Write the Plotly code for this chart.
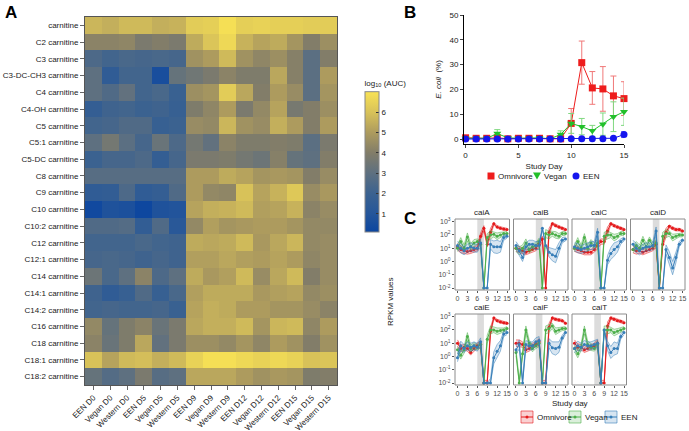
import plotly.graph_objects as go

W, H = 689, 431
def px(x): return x / W
def py(y): return 1 - y / H

# ---------------- Panel A data ----------------
metabolites = ["carnitine", "C2 carnitine", "C3 carnitine", "C3-DC-CH3 carnitine", "C4 carnitine",
               "C4-OH carnitine", "C5 carnitine", "C5:1 carnitine", "C5-DC carnitine", "C8 carnitine",
               "C9 carnitine", "C10 carnitine", "C10:2 carnitine", "C12 carnitine", "C12:1 carnitine",
               "C14 carnitine", "C14:1 carnitine", "C14:2 carnitine", "C16 carnitine", "C18 carnitine",
               "C18:1 carnitine", "C18:2 carnitine"]
samples = ["EEN D0", "Vegan D0", "Western D0", "EEN D5", "Vegan D5", "Western D5",
           "EEN D9", "Vegan D9", "Western D9", "EEN D12", "Vegan D12", "Western D12",
           "EEN D15", "Vegan D15", "Western D15"]
log_auc = [
    [5.7, 5.5, 5.8, 5.8, 5.5, 5.6, 6.3, 6.4, 6.9, 6.4, 6.5, 6.4, 6.4, 6.3, 6.3],
    [4.2, 4.2, 4.3, 3.8, 4.0, 3.8, 5.4, 6.1, 6.7, 5.6, 5.2, 5.4, 4.8, 4.0, 4.6],
    [2.5, 2.2, 2.4, 2.3, 2.4, 2.3, 4.7, 5.0, 5.8, 4.7, 4.3, 4.6, 4.1, 2.9, 4.0],
    [3.0, 1.5, 2.2, 2.2, 0.6, 3.2, 3.5, 3.8, 4.2, 3.9, 3.9, 5.3, 4.1, 2.9, 5.0],
    [3.0, 2.6, 3.1, 2.2, 2.4, 1.9, 4.6, 4.8, 6.3, 5.3, 4.0, 5.0, 4.5, 2.9, 4.8],
    [1.7, 2.1, 2.2, 2.0, 2.1, 1.8, 3.9, 4.3, 5.0, 3.8, 4.4, 5.2, 3.7, 4.0, 4.6],
    [2.2, 2.3, 2.6, 2.6, 1.8, 2.0, 4.5, 4.4, 5.7, 4.7, 4.5, 5.5, 5.0, 4.0, 5.0],
    [3.0, 3.6, 2.9, 2.3, 3.3, 2.5, 3.6, 3.1, 4.2, 3.9, 3.9, 4.0, 3.9, 2.9, 3.8],
    [2.0, 2.3, 2.3, 2.5, 1.7, 2.3, 3.8, 3.8, 3.9, 3.6, 3.4, 4.1, 3.2, 3.0, 4.0],
    [2.8, 2.8, 2.8, 2.8, 2.8, 2.8, 5.0, 5.0, 5.4, 5.2, 4.8, 4.9, 4.8, 4.0, 4.5],
    [1.5, 1.6, 2.5, 1.5, 1.7, 2.6, 5.0, 4.4, 4.3, 6.0, 5.2, 5.6, 6.2, 4.5, 4.9],
    [0.3, 0.8, 0.7, 0.2, 0.8, 0.9, 5.2, 5.5, 5.6, 5.8, 5.1, 5.2, 5.6, 4.2, 4.5],
    [2.6, 2.6, 2.7, 1.6, 2.6, 1.2, 4.4, 5.1, 4.8, 4.9, 5.0, 5.0, 4.8, 4.4, 4.4],
    [2.2, 2.2, 2.2, 2.4, 2.2, 2.1, 5.4, 5.3, 5.4, 5.8, 4.9, 5.3, 5.7, 4.4, 4.5],
    [2.3, 2.4, 2.3, 2.1, 2.3, 2.1, 5.1, 5.1, 5.3, 5.1, 5.0, 5.2, 5.0, 4.3, 4.5],
    [3.4, 2.4, 3.0, 4.2, 2.5, 3.0, 5.4, 4.9, 5.1, 5.8, 4.5, 5.3, 5.8, 4.0, 4.5],
    [2.1, 1.5, 1.8, 2.6, 1.8, 2.4, 5.1, 5.4, 5.4, 5.4, 4.9, 5.1, 5.2, 4.4, 4.6],
    [2.2, 2.3, 2.2, 2.2, 2.3, 1.9, 5.2, 5.5, 5.4, 5.0, 5.0, 4.8, 4.8, 4.5, 4.2],
    [4.4, 3.2, 3.9, 4.2, 3.3, 3.8, 5.3, 5.5, 5.5, 5.8, 4.8, 5.7, 5.8, 4.3, 5.0],
    [4.2, 3.3, 3.9, 5.3, 3.1, 3.8, 4.6, 4.6, 4.4, 4.8, 4.3, 5.0, 4.7, 4.0, 4.7],
    [6.0, 5.2, 5.8, 5.9, 5.5, 5.8, 6.5, 6.9, 6.9, 6.7, 6.5, 6.7, 6.5, 6.0, 6.1],
    [3.2, 2.7, 3.0, 3.8, 2.8, 3.0, 5.3, 5.3, 5.3, 5.0, 4.7, 4.9, 4.8, 3.9, 4.0],
]
cbar_ticks = [1, 2, 3, 4, 5, 6]

# ---------------- Panel B data ----------------
study_day = list(range(16))
omnivore_pct = [0.5, 0.3, 0.3, 0.5, 0.1, 0.3, 0.3, 0.3, 0.1, 0.1, 6.3, 30.8, 20.6, 20.2, 17.4, 16.3]
omnivore_err = [0.3, 0.2, 0.2, 0.4, 0.1, 0.2, 0.2, 0.3, 0.1, 0.1, 6.0, 8.7, 6.6, 9.0, 8.0, 6.8]
vegan_pct = [0.3, 0.3, 0.3, 2.2, 0.5, 0.3, 0.3, 0.5, 0.1, 1.8, 6.3, 5.0, 3.3, 6.0, 9.0, 11.0]
vegan_err = [0.2, 0.2, 0.2, 1.6, 0.4, 0.2, 0.2, 0.3, 0.1, 1.5, 4.0, 3.3, 2.2, 4.5, 6.0, 5.5]
een_pct = [0.0, 0.0, 0.0, 0.0, 0.0, 0.0, 0.0, 0.0, 0.0, 0.0, 0.1, 0.1, 0.1, 0.1, 0.3, 1.8]
een_err = [0.0, 0.0, 0.0, 0.0, 0.0, 0.0, 0.0, 0.0, 0.0, 0.0, 0.1, 0.1, 0.1, 0.1, 0.2, 1.2]
groups_b = ["Omnivore", "Vegan", "EEN"]

# ---------------- Panel C data (log10 RPKM; -2 = floor) ----------------
genes = ["caiA", "caiB", "caiC", "caiD", "caiE", "caiF", "caiT"]
c_days = list(range(16))
omn_caiA = [1.1, 0.9, 0.8, 0.75, 0.8, 0.9, 1.0, 1.9, 2.5, 1.3, 2.2, 2.85, 2.6, 2.5, 2.45, 2.4]
veg_caiA = [1.0, 1.5, 1.0, 1.85, 1.1, 1.4, 1.5, 1.3, -2.0, 1.8, 2.0, 2.05, 1.9, 2.0, 2.1, 2.1]
een_caiA = [1.2, 1.0, 0.8, 1.0, 1.1, 1.0, 1.0, 1.4, -2.0, -2.0, 1.3, 1.1, 1.1, 1.1, 1.8, 1.9]
omn_caiB = [1.0, 0.9, 0.8, 0.7, 0.8, 0.9, 1.0, 1.3, 1.7, -2.0, 2.2, 2.85, 2.7, 2.6, 2.5, 2.4]
veg_caiB = [1.0, 0.8, 1.0, 1.4, 0.9, 1.1, 1.2, 1.5, -2.0, 2.1, 2.0, 2.1, 2.0, 1.9, 2.1, 2.1]
een_caiB = [1.2, 0.8, 0.3, 1.1, 1.3, 1.3, 1.2, 1.2, 2.5, 1.2, 0.7, 0.5, 0.4, 1.0, 1.6, 1.7]
omn_caiC = [1.0, 0.9, 0.8, 0.7, 0.7, 0.7, 0.9, 1.2, 1.5, 1.5, 2.3, 2.85, 2.7, 2.6, 2.5, 2.4]
veg_caiC = [1.0, 1.5, 1.0, 1.8, 1.0, 1.4, 1.2, 1.4, -2.0, 1.9, 2.0, 2.0, 1.8, 1.9, 2.1, 2.1]
een_caiC = [1.1, 1.0, 0.9, 1.0, 1.1, 1.2, 1.2, 2.2, -2.0, -2.0, 0.1, 0.6, 0.9, 1.1, 1.5, 1.7]
omn_caiD = [0.9, 0.8, 0.8, 0.7, 0.8, 0.9, 1.0, 1.3, -2.0, 1.3, 2.2, 2.65, 2.5, 2.4, 2.4, 2.3]
veg_caiD = [0.9, 1.2, 1.0, 1.6, 1.1, 1.6, 1.2, 1.4, -2.0, 1.9, 2.1, 2.1, 1.8, 1.9, 2.0, 2.0]
een_caiD = [1.3, 1.0, 0.8, 1.0, 1.1, 1.1, 1.2, 2.3, -2.0, -2.0, 0.9, 0.3, -0.5, 0.3, 1.3, 1.6]
omn_caiE = [1.0, 0.6, 0.7, 0.6, 0.3, 0.6, 0.8, 0.9, -2.0, -2.0, 1.9, 2.9, 2.7, 2.6, 2.55, 2.5]
veg_caiE = [0.5, 0.1, 0.5, 1.5, 0.6, 0.8, 0.7, 0.9, -2.0, 1.3, 2.0, 2.0, 1.9, 1.95, 2.0, 2.1]
een_caiE = [-0.1, 0.8, 0.6, 0.8, 0.7, 0.8, 0.7, 1.1, -2.0, -2.0, -2.0, -0.1, 0.4, 0.8, 1.7, 1.8]
omn_caiF = [1.0, 1.0, 0.9, 0.5, 0.6, 0.8, 0.9, 1.1, -2.0, -2.0, 2.2, 2.9, 2.8, 2.75, 2.7, 2.5]
veg_caiF = [0.3, -2.0, 0.2, 2.0, 1.0, 0.6, 0.8, 1.0, -2.0, 2.0, 2.1, 2.3, 1.9, 2.0, 2.1, 2.1]
een_caiF = [0.5, 0.9, -2.0, 0.9, 0.8, 0.8, 1.1, 1.2, -2.0, -2.0, 1.0, 0.65, 0.6, 0.7, 1.4, 1.8]
omn_caiT = [1.0, 0.7, 0.7, 0.5, 0.6, 0.7, 0.8, 1.0, -2.0, -2.0, 2.3, 2.9, 2.8, 2.7, 2.65, 2.55]
veg_caiT = [0.6, 0.2, 0.7, 2.0, 0.9, 0.7, 0.6, 0.9, -2.0, 2.0, 2.0, 2.0, 1.8, 1.9, 2.0, 2.1]
een_caiT = [0.6, 0.8, 0.7, 0.9, 0.8, 0.8, 0.9, 1.0, -2.0, 2.0, 0.8, 0.3, 0.6, 0.6, 1.5, 1.8]
spread_omn = [0.25, 0.25, 0.2, 0.2, 0.2, 0.2, 0.2, 0.25, 0.2, 0.2, 0.3, 0.1, 0.1, 0.1, 0.1, 0.1]
spread_veg = [0.25, 0.3, 0.25, 0.3, 0.25, 0.25, 0.2, 0.25, 0.0, 0.3, 0.3, 0.2, 0.25, 0.2, 0.15, 0.15]
spread_een = [0.3, 0.35, 0.3, 0.3, 0.3, 0.3, 0.3, 0.3, 0.0, 0.0, 0.35, 0.45, 0.5, 0.4, 0.2, 0.15]
c_yticks = [-2, -1, 0, 1, 2, 3]
c_yticklabels = ["10<sup>-2</sup>", "10<sup>-1</sup>", "10<sup>0</sup>", "10<sup>1</sup>",
                 "10<sup>2</sup>", "10<sup>3</sup>"]
c_xticks = [0, 3, 6, 9, 12, 15]
groups_c = ["Omnivore", "Vegan", "EEN"]

gene_data = {
    "caiA": (omn_caiA, veg_caiA, een_caiA), "caiB": (omn_caiB, veg_caiB, een_caiB),
    "caiC": (omn_caiC, veg_caiC, een_caiC), "caiD": (omn_caiD, veg_caiD, een_caiD),
    "caiE": (omn_caiE, veg_caiE, een_caiE), "caiF": (omn_caiF, veg_caiF, een_caiF),
    "caiT": (omn_caiT, veg_caiT, een_caiT),
}

FONT = "Liberation Sans, Arial, sans-serif"
fig = go.Figure()

# ---------------- Panel A ----------------
def v2n(v): return (v - 0.1) / 6.9
cscale = [[0.0, "#0b45a0"], [v2n(1.0), "#25569a"], [v2n(2.0), "#3b6290"], [v2n(3.0), "#5e7080"],
          [v2n(4.0), "#827d69"], [v2n(5.0), "#ad9b5e"], [v2n(6.0), "#d8c259"], [1.0, "#f8e255"]]
fig.add_trace(go.Heatmap(
    z=log_auc, x=samples, y=metabolites, colorscale=cscale, zmin=0.1, zmax=7.0,
    xaxis="x", yaxis="y",
    colorbar=dict(x=px(355), xanchor="left", y=py(67), yanchor="top", len=175 / H, lenmode="fraction",
                  thickness=14, outlinewidth=1, outlinecolor="#888", tickvals=cbar_ticks,
                  ticks="inside", ticklen=3, tickcolor="#333", tickfont=dict(size=8, color="#222"),
                  title=dict(text="log<sub>10</sub> (AUC)", side="top", font=dict(size=8, color="#222"))),
))

# ---------------- Panel B ----------------
b_style = {"Omnivore": ("#ee1c1c", "#f07878", "square"),
           "Vegan": ("#22c02a", "#80d880", "triangle-down"),
           "EEN": ("#1515ee", "#7070f0", "circle")}
for name, vals, err in zip(groups_b, [omnivore_pct, vegan_pct, een_pct], [omnivore_err, vegan_err, een_err]):
    color, ecolor, symbol = b_style[name]
    fig.add_trace(go.Scatter(
        x=study_day, y=vals, name=name, mode="lines+markers", xaxis="x2", yaxis="y2",
        line=dict(color=color, width=1), marker=dict(color=color, symbol=symbol, size=7),
        error_y=dict(type="data", array=err, color=ecolor, thickness=1, width=3),
        cliponaxis=False, showlegend=False))

# ---------------- Panel C ----------------
cols = {"Omnivore": ("#e41a1c", "rgba(228,26,28,0.2)"),
        "Vegan": ("#4daf4a", "rgba(77,175,74,0.2)"),
        "EEN": ("#377eb8", "rgba(55,126,184,0.2)")}
spreads = {"Omnivore": spread_omn, "Vegan": spread_veg, "EEN": spread_een}

left0, right0 = 455, 685
pw = (right0 - left0 - 3 * 4) / 4
rows_y = [(219, 290), (314, 385)]
shapes = []
annotations = []
for i, g in enumerate(genes):
    r, c = divmod(i, 4)
    k = i + 3
    xl = left0 + c * (pw + 4)
    xr = xl + pw
    yt, yb = rows_y[r]
    xa, ya = f"xaxis{k}", f"yaxis{k}"
    fig.update_layout(**{
        xa: dict(domain=[px(xl), px(xr)], anchor=f"y{k}", range=[-0.75, 15.75], tickvals=c_xticks,
                 showgrid=False, zeroline=False, showline=False, ticks="outside", ticklen=2,
                 tickcolor="#555", tickfont=dict(size=7, color="#4d4d4d"), automargin=False),
        ya: dict(domain=[py(yb), py(yt)], anchor=f"x{k}", range=[-2.15, 3.2], tickvals=c_yticks,
                 ticktext=c_yticklabels, showticklabels=(c == 0), showgrid=False, zeroline=False,
                 showline=False, ticks="outside" if c == 0 else "", ticklen=2, tickcolor="#555",
                 tickfont=dict(size=7, color="#4d4d4d"), automargin=False),
    })
    shapes.append(dict(type="rect", xref=f"x{k}", yref=f"y{k} domain", x0=6, x1=8, y0=0, y1=1,
                       fillcolor="#dcdcdc", line=dict(width=0), layer="below"))
    shapes.append(dict(type="rect", xref="paper", yref="paper", x0=px(xl), x1=px(xr), y0=py(yb), y1=py(yt),
                       line=dict(color="#8c8c8c", width=1), fillcolor="rgba(0,0,0,0)", layer="above"))
    annotations.append(dict(text=g, x=px((xl + xr) / 2), y=py(yt - 0.5), xref="paper", yref="paper",
                            xanchor="center", yanchor="bottom", showarrow=False,
                            font=dict(size=8, color="#1a1a1a")))
    for name, vals in zip(groups_c, gene_data[g]):
        col, fill = cols[name]
        sp = spreads[name]
        up = [v + s for v, s in zip(vals, sp)]
        lo = [max(v - s, -2.0) for v, s in zip(vals, sp)]
        fig.add_trace(go.Scatter(x=c_days, y=up, mode="lines", line=dict(color=col, width=0.5),
                                 xaxis=f"x{k}", yaxis=f"y{k}", showlegend=False, hoverinfo="skip"))
        fig.add_trace(go.Scatter(x=c_days, y=lo, mode="lines", line=dict(color=col, width=0.5),
                                 fill="tonexty", fillcolor=fill,
                                 xaxis=f"x{k}", yaxis=f"y{k}", showlegend=False, hoverinfo="skip"))
        fig.add_trace(go.Scatter(x=c_days, y=vals, mode="lines+markers", line=dict(color=col, width=1),
                                 marker=dict(color=col, size=3), xaxis=f"x{k}", yaxis=f"y{k}",
                                 showlegend=False, cliponaxis=False))

# ---------------- Manual legends (shapes + text) ----------------
def pshape(kind, x0, y0, x1, y1, color, **kw):
    return dict(type=kind, xref="paper", yref="paper", x0=px(x0), x1=px(x1), y0=py(y1), y1=py(y0),
                fillcolor=color, line=dict(color=color, width=0), **kw)

lb_mark_x = [491, 537, 576]
lb_text_x = [496, 542, 581]
lb_y = 176
for name, mx, tx in zip(groups_b, lb_mark_x, lb_text_x):
    color, ecolor, symbol = b_style[name]
    if symbol == "square":
        shapes.append(pshape("rect", mx - 3.5, lb_y - 3.5, mx + 3.5, lb_y + 3.5, color))
    elif symbol == "circle":
        shapes.append(pshape("circle", mx - 3.5, lb_y - 3.5, mx + 3.5, lb_y + 3.5, color))
    else:
        shapes.append(dict(type="path", xref="paper", yref="paper", fillcolor=color,
                           line=dict(color=color, width=0),
                           path=f"M {px(mx - 4)} {py(lb_y - 3.5)} L {px(mx + 4)} {py(lb_y - 3.5)} "
                                f"L {px(mx)} {py(lb_y + 3.5)} Z"))
    annotations.append(dict(text=name, x=px(tx), y=py(lb_y), xref="paper", yref="paper", xanchor="left",
                            yanchor="middle", showarrow=False, font=dict(size=8, color="#222")))

lc_box_x = [521, 569, 605]
lc_y = 417
for name, bx in zip(groups_c, lc_box_x):
    col, fill = cols[name]
    shapes.append(dict(type="rect", xref="paper", yref="paper", x0=px(bx), x1=px(bx + 12),
                       y0=py(lc_y + 6), y1=py(lc_y - 6), fillcolor=fill, line=dict(color=col, width=0.6)))
    shapes.append(dict(type="line", xref="paper", yref="paper", x0=px(bx), x1=px(bx + 12),
                       y0=py(lc_y), y1=py(lc_y), line=dict(color=col, width=1)))
    shapes.append(pshape("circle", bx + 4.5, lc_y - 1.5, bx + 7.5, lc_y + 1.5, col))
    annotations.append(dict(text=name, x=px(bx + 13.5), y=py(lc_y), xref="paper", yref="paper",
                            xanchor="left", yanchor="middle", showarrow=False,
                            font=dict(size=8, color="#1a1a1a")))

annotations += [
    dict(text="<b>A</b>", x=px(3), y=py(1), xref="paper", yref="paper", xanchor="left", yanchor="top",
         showarrow=False, font=dict(size=17, color="black")),
    dict(text="<b>B</b>", x=px(402), y=py(1), xref="paper", yref="paper", xanchor="left", yanchor="top",
         showarrow=False, font=dict(size=17, color="black")),
    dict(text="<b>C</b>", x=px(402), y=py(207), xref="paper", yref="paper", xanchor="left", yanchor="top",
         showarrow=False, font=dict(size=17, color="black")),
    dict(text="RPKM values", x=px(390), y=py(302), xref="paper", yref="paper", textangle=-90,
         xanchor="center", yanchor="middle", showarrow=False, font=dict(size=8, color="#1a1a1a")),
    dict(text="Study day", x=px(570), y=py(403), xref="paper", yref="paper", xanchor="center",
         yanchor="middle", showarrow=False, font=dict(size=8, color="#1a1a1a")),
]

fig.update_layout(
    width=W, height=H, margin=dict(l=0, r=0, t=0, b=0, autoexpand=False),
    paper_bgcolor="white", plot_bgcolor="rgba(0,0,0,0)",
    font=dict(family=FONT, size=8, color="#222"),
    showlegend=False,
    xaxis=dict(domain=[px(85), px(337)], anchor="y", tickangle=-45, ticks="outside", ticklen=4,
               tickcolor="#666", tickfont=dict(size=8, color="#222"), showline=True, linecolor="#555",
               mirror=True, linewidth=1, automargin=False),
    yaxis=dict(domain=[py(385), py(17)], anchor="x", autorange="reversed", ticks="outside", ticklen=4,
               tickcolor="#666", tickfont=dict(size=8, color="#222"), showline=True, linecolor="#555",
               mirror=True, linewidth=1, automargin=False),
    xaxis2=dict(domain=[px(464), px(624)], anchor="y2", range=[-0.15, 15], tickvals=[0, 5, 10, 15],
                showgrid=False, zeroline=False, showline=True, linecolor="black", linewidth=1,
                ticks="outside", ticklen=3, tickfont=dict(size=8, color="#222"), automargin=False,
                title=dict(text="Study Day", font=dict(size=8), standoff=4)),
    yaxis2=dict(domain=[py(144), py(15)], anchor="x2", range=[-2, 50], tickvals=[0, 10, 20, 30, 40, 50],
                showgrid=False, zeroline=False, showline=True, linecolor="black", linewidth=1,
                ticks="outside", ticklen=3, tickfont=dict(size=8, color="#222"), automargin=False,
                title=dict(text="<i>E. coli</i>  (%)", font=dict(size=8), standoff=6)),
    shapes=shapes, annotations=annotations,
)

fig.write_html("out.html", config={"displayModeBar": False},
               post_script="document.body.style.margin='0px';")
